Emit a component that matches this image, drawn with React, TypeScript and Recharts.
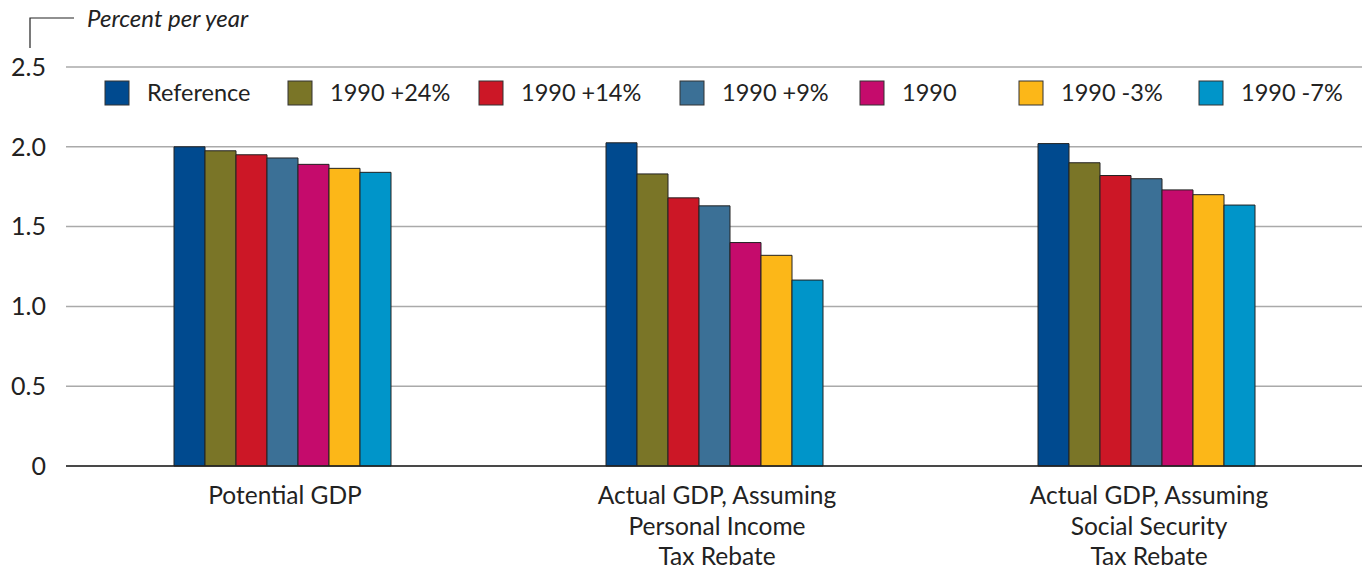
import React from 'react';
import { BarChart, Bar, XAxis, YAxis, CartesianGrid } from 'recharts';

const categories = [
  'Potential GDP',
  'Actual GDP, Assuming|Personal Income|Tax Rebate',
  'Actual GDP, Assuming|Social Security|Tax Rebate',
];
const seriesNames = ['Reference', '1990 +24%', '1990 +14%', '1990 +9%', '1990', '1990 -3%', '1990 -7%'];
const seriesColors = ['#004a8f', '#7a7527', '#cc1726', '#3b7096', '#c50b6c', '#fcb718', '#0095c9'];
const reference = [2.0, 2.025, 2.02];
const plus24 = [1.975, 1.83, 1.9];
const plus14 = [1.95, 1.68, 1.82];
const plus9 = [1.93, 1.63, 1.8];
const base1990 = [1.89, 1.4, 1.73];
const minus3 = [1.865, 1.32, 1.7];
const minus7 = [1.84, 1.165, 1.635];
const yTicks = [0, 0.5, 1.0, 1.5, 2.0, 2.5];
const yLabel = 'Percent per year';

const seriesValues = [reference, plus24, plus14, plus9, base1990, minus3, minus7];
const keys = seriesNames.map((_, i) => 's' + i);
const data = categories.map((c, ci) => {
  const row: any = { name: c };
  keys.forEach((k, si) => (row[k] = seriesValues[si][ci]));
  return row;
});

const FONT = 'Lato, "Noto Sans", sans-serif';

const XTick = (props: any) => {
  const { x, y, payload } = props;
  const lines = String(payload.value).split('|');
  return (
    <g>
      {lines.map((l, i) => (
        <text key={i} x={x + 3} y={y + 30 + i * 30.5} textAnchor="middle" fontSize={24.5} fill="#222" fontFamily={FONT}>
          {l}
        </text>
      ))}
    </g>
  );
};

const legendX = [105, 288, 479, 680, 860, 1019, 1199];

export default function App() {
  return (
    <div style={{ position: 'absolute', left: 0, top: 0, width: 1362, height: 571, background: '#fff' }}>
      <BarChart
        width={1362}
        height={571}
        data={data}
        margin={{ top: 67, right: 0, bottom: 0, left: 0 }}
        barGap={0}
        barCategoryGap="25%"
      >
        <CartesianGrid vertical={false} stroke="#aaa" strokeWidth={1.5} />
        <XAxis
          dataKey="name"
          axisLine={{ stroke: '#222', strokeWidth: 1.5 }}
          tickLine={false}
          tick={<XTick />}
          interval={0}
          height={105}
        />
        <YAxis
          domain={[0, 2.5]}
          ticks={yTicks}
          width={66}
          axisLine={false}
          tickLine={false}
          tickMargin={14}
          tickFormatter={(v: number) => (v === 0 ? '0' : v.toFixed(1))}
          tick={{ fontSize: 25, fill: '#222', fontFamily: FONT }}
        />
        {keys.map((k, i) => (
          <Bar key={k} dataKey={k} fill={seriesColors[i]} stroke="#222" strokeWidth={1} isAnimationActive={false} />
        ))}
      </BarChart>
      <svg width={1362} height={571} style={{ position: 'absolute', left: 0, top: 0, pointerEvents: 'none' }}>
        <polyline points="30,48 30,18 74,18" fill="none" stroke="#222" strokeWidth={1.2} />
        <text x={87} y={27} fontSize={24} fontStyle="italic" fill="#222" fontFamily={FONT}>
          {yLabel}
        </text>
        {seriesNames.map((n, i) => (
          <g key={n}>
            <rect x={legendX[i]} y={81} width={24} height={24} fill={seriesColors[i]} stroke="#333" strokeWidth={1} />
            <text x={legendX[i] + 42} y={101} fontSize={23.5} fill="#222" fontFamily={FONT}>
              {n}
            </text>
          </g>
        ))}
      </svg>
    </div>
  );
}
